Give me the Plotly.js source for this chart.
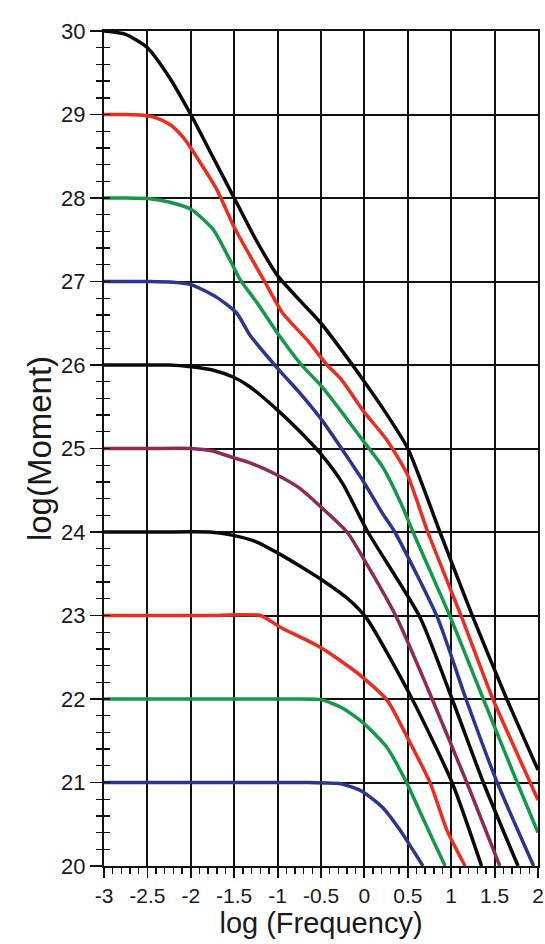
<!DOCTYPE html>
<html>
<head>
<meta charset="utf-8">
<script src="https://cdn.plot.ly/plotly-3.0.1.min.js"></script>
<style>html,body{margin:0;padding:0;background:#fff;}#chart{width:545px;height:944px;}</style>
</head>
<body>
<div id="chart"></div>
<script>
// log(Moment) curves vs log(Frequency), one pair of arrays per curve
var x30 = [-3,-2.75,-2.5,-2.25,-2,-1.75,-1.5,-1.25,-1,-0.75,-0.5,-0.25,0,0.2,0.5,0.87,1.25,1.64,2];
var y30 = [30,29.96,29.8,29.45,29.0,28.5,28.0,27.5,27.07,26.78,26.5,26.16,25.8,25.5,25.0,24.0,22.98,22.0,21.15];

var x29 = [-3,-2.75,-2.55,-2.4,-2.24,-2.09,-2,-1.7,-1.5,-1.15,-0.94,-0.66,-0.43,-0.26,-0.02,0.26,0.49,0.73,1.12,1.48,1.91,2];
var y29 = [29,29,28.99,28.96,28.88,28.73,28.6,28.1,27.65,27.0,26.62,26.3,26.0,25.82,25.46,25.1,24.7,24.0,22.98,22.0,21.0,20.79];

var x28 = [-3,-2.75,-2.47,-2.24,-1.99,-1.74,-1.55,-1.43,-1.24,-1.0,-0.74,-0.49,-0.25,-0.02,0.21,0.44,0.56,0.99,1.37,1.76,2];
var y28 = [28,28,27.99,27.95,27.86,27.62,27.26,27.02,26.75,26.38,26.02,25.74,25.42,25.1,24.78,24.3,24.0,22.98,22.0,21.0,20.4];

var x27 = [-3,-2.75,-2.47,-2.2,-1.99,-1.7,-1.47,-1.32,-1.0,-0.74,-0.49,-0.25,-0.02,0.21,0.35,0.84,1.17,1.53,1.95];
var y27 = [27,27,27,26.99,26.96,26.81,26.62,26.36,25.96,25.66,25.34,24.98,24.62,24.22,24.0,22.98,22.0,21.0,20.0];

var x26 = [-3,-2.6,-2.25,-2,-1.75,-1.5,-1.32,-1.0,-0.74,-0.49,-0.25,0.04,0.64,1.01,1.37,1.77];
var y26 = [26,26,26,25.98,25.94,25.85,25.74,25.46,25.2,24.92,24.58,24.0,22.98,22.0,21.0,20.0];

var x25 = [-3,-2.5,-2,-1.75,-1.51,-1.35,-1.0,-0.74,-0.48,-0.2,-0.02,0.37,0.72,1.18,1.56];
var y25 = [25,25,25,24.97,24.89,24.84,24.68,24.52,24.28,24.0,23.7,22.98,22.15,21.0,20.0];

var x24 = [-3,-2.4,-1.78,-1.51,-1.24,-1.0,-0.74,-0.48,-0.19,0.03,0.55,1.01,1.35];
var y24 = [24,24,24,23.96,23.88,23.75,23.59,23.42,23.2,22.96,22.0,21.0,20.0];

var x23 = [-3,-2.4,-1.8,-1.2,-0.97,-0.51,-0.17,-0.02,0.26,0.49,0.76,0.95,1.16];
var y23 = [23,23,23,23,22.86,22.62,22.38,22.26,21.99,21.55,20.99,20.43,20.0];

var x22 = [-3,-2.2,-1.4,-0.8,-0.49,-0.25,-0.02,0.26,0.49,0.68,0.84,0.93];
var y22 = [22,22,22,22,21.99,21.89,21.72,21.42,20.99,20.56,20.2,20.0];

var x21 = [-3,-2.2,-1.4,-0.7,-0.25,-0.02,0.21,0.41,0.56,0.675];
var y21 = [21,21,21,21,20.98,20.89,20.7,20.43,20.19,20.0];

var xTickVals = [-3,-2.5,-2,-1.5,-1,-0.5,0,0.5,1,1.5,2];
var xTickText = ["-3","-2.5","-2","-1.5","-1","-0.5","0","0.5","1","1.5","2"];
var yTickVals = [20,21,22,23,24,25,26,27,28,29,30];
var yTickText = ["20","21","22","23","24","25","26","27","28","29","30"];

var BLACK = "#0a0a0a", RED = "#ea2d1f", GREEN = "#15984a", BLUE = "#2b3690", PURPLE = "#8c2c55";

var series = [
  [x30, y30, BLACK], [x29, y29, RED], [x28, y28, GREEN], [x27, y27, BLUE],
  [x26, y26, BLACK], [x25, y25, PURPLE], [x24, y24, BLACK], [x23, y23, RED],
  [x22, y22, GREEN], [x21, y21, BLUE]
];

var traces = series.map(function (s) {
  return {
    x: s[0], y: s[1], type: "scatter", mode: "lines",
    line: {color: s[2], width: 3.5, shape: "spline", smoothing: 0.6},
    hoverinfo: "skip", showlegend: false
  };
});
// invisible helper so the overlay axis (inner half of the crossing minor ticks) is drawn
traces.push({x: [xTickVals[0]], y: [yTickVals[0]], yaxis: "y2", type: "scatter", mode: "markers",
  marker: {opacity: 0}, hoverinfo: "skip", showlegend: false});

var fontFam = "Liberation Sans, Arial, Helvetica, sans-serif";
var INK = "#1a1a1a";

var layout = {
  width: 545, height: 944,
  margin: {l: 104, r: 7, t: 31, b: 78},
  paper_bgcolor: "#ffffff", plot_bgcolor: "#ffffff",
  font: {family: fontFam, color: INK},
  showlegend: false,
  xaxis: {
    range: [-3, 2], tickmode: "array", tickvals: xTickVals, ticktext: xTickText,
    showgrid: true, gridcolor: "#111", gridwidth: 2,
    showline: true, linecolor: "#111", linewidth: 2, mirror: true,
    ticks: "outside", ticklen: 10, tickwidth: 1.8, tickcolor: "#111",
    minor: {dtick: 0.1, tick0: -3, ticks: "outside", ticklen: 6, tickwidth: 1.4, tickcolor: "#111", showgrid: false},
    tickfont: {size: 21, family: fontFam, color: INK},
    zeroline: false,
    title: {text: "log (Frequency)", font: {size: 29, family: fontFam, color: INK}, standoff: 4}
  },
  yaxis: {
    range: [20, 30], tickmode: "array", tickvals: yTickVals, ticktext: yTickText,
    showgrid: true, gridcolor: "#111", gridwidth: 2,
    showline: true, linecolor: "#111", linewidth: 2, mirror: true,
    ticks: "outside", ticklen: 12, tickwidth: 1.8, tickcolor: "#111",
    minor: {dtick: 0.2, tick0: 20, ticks: "outside", ticklen: 6, tickwidth: 1.4, tickcolor: "#111", showgrid: false},
    tickfont: {size: 22, family: fontFam, color: INK},
    zeroline: false,
    title: {text: "log(Moment)", font: {size: 33, family: fontFam, color: INK}, standoff: 0}
  },
  yaxis2: {
    range: [20, 30], overlaying: "y", side: "left",
    showgrid: false, showline: false, zeroline: false, showticklabels: false,
    tickmode: "array", tickvals: yTickVals, ticks: "inside", ticklen: 0, tickcolor: "rgba(0,0,0,0)",
    minor: {dtick: 0.2, tick0: 20, ticks: "inside", ticklen: 6, tickwidth: 1.4, tickcolor: "#111", showgrid: false}
  }
};

Plotly.newPlot("chart", traces, layout, {displayModeBar: false, staticPlot: true});
</script>
</body>
</html>
